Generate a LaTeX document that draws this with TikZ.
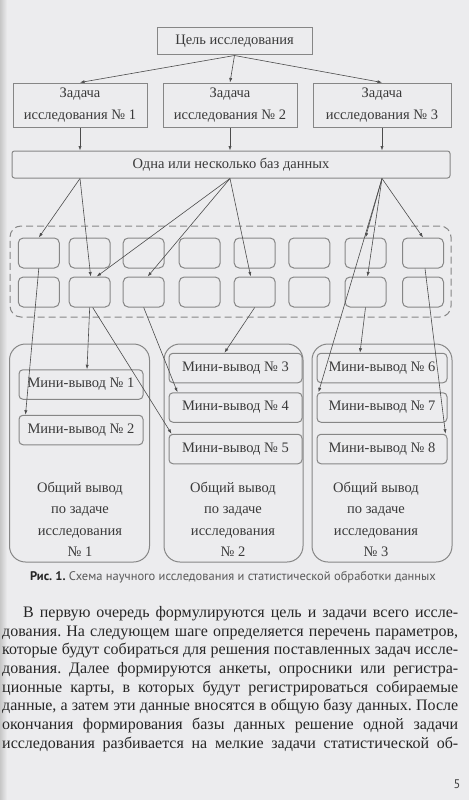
\documentclass[tikz,border=0pt]{standalone}
\usepackage{fontspec}
\setmainfont{Liberation Serif}
\newfontfamily\capfont{PT Sans}
\usepackage{tikz}
\usetikzlibrary{positioning, arrows.meta, calc}
\definecolor{paper}{HTML}{ECECEE}
\definecolor{rimgray}{HTML}{868686}
\definecolor{linegray}{HTML}{4C4C4C}
\definecolor{inkgray}{HTML}{3A3A3A}
\newlength{\textzeile}
\setlength{\textzeile}{456pt}
\frenchspacing

\begin{document}
\begin{tikzpicture}[x=1pt, y=-1pt,
                plainbox/.style={draw=rimgray, line width=1pt, rectangle, text=inkgray, inner sep=0pt, align=center, font=\fontsize{14.5}{21.5}\selectfont},
                taskbox/.style={plainbox, minimum width=134pt, minimum height=44pt},
                dbbox/.style={plainbox, rounded corners=2.5pt, minimum width=438pt, minimum height=27pt},
                cell/.style={draw=rimgray, line width=1pt, rounded corners=5pt, minimum width=41pt, minimum height=30pt, inner sep=0pt},
                cellframe/.style={draw=rimgray, line width=1pt, dash pattern=on 7pt off 4pt, rounded corners=11pt, minimum width=441pt, minimum height=91pt},
                minibox/.style={plainbox, rounded corners=4pt, minimum height=29.5pt},
                sumbox/.style={draw=rimgray, line width=1pt, rounded corners=16pt, minimum width=140pt, minimum height=218pt},
                sumtext/.style={text=inkgray, align=center, font=\fontsize{14.5}{21.5}\selectfont},
                conn/.style={draw=linegray, line width=0.6pt, -{Latex[length=4.5pt, width=3.2pt]}},
                bodytext/.style={text=black!85, align=left, inner sep=0pt, font=\fontsize{16}{18.7}\selectfont},
                captext/.style={text=black!65, inner sep=0pt, font=\capfont\fontsize{12.5}{15}\selectfont}
            ]

            % Blatt
            \fill[paper] (0,0) rectangle (469,800);
            \shade[left color=black!22, right color=paper] (0,0) rectangle (7,800);
            \useasboundingbox (0,0) rectangle (469,800);

            % Knoten oben
            \node[plainbox, minimum width=155pt, minimum height=27pt] (goal) at (234.5,41.5) {Цель исследования};
            \node[taskbox] (t1) at (80,105) {Задача\\исследования № 1};
            \node[taskbox] (t2) at (230,105) {Задача\\исследования № 2};
            \node[taskbox, minimum width=138pt] (t3) at (382,105) {Задача\\исследования № 3};
            \node[dbbox] (db) at (231,164.5) {Одна или несколько баз данных};

            % Zellen der Datenbank
            \node[cellframe] (frame) at (230.5,271.5) {};
            \foreach \i/\cx in {1/38.8, 2/89.7, 3/143.7, 4/199.7, 5/254.7, 6/309.3, 7/365.5, 8/423} {
                \node[cell] (a\i) at (\cx,253) {};
                \node[cell, below=8pt of a\i] (b\i) {};
            }

            % Schlussfolgerungen
            \node[sumbox] (s1) at (79.5,453) {};
            \node[sumbox, minimum width=139pt] (s2) at (233.5,453) {};
            \node[sumbox] (s3) at (382,453) {};
            \node[minibox, minimum width=124pt] (m1) at (81,384.5) {Мини-вывод № 1};
            \node[minibox, minimum width=124pt, below=15pt of m1] (m2) {Мини-вывод № 2};
            \node[minibox, minimum width=133pt] (m3) at (235.5,368) {Мини-вывод № 3};
            \node[minibox, minimum width=133pt, below=9pt of m3] (m4) {Мини-вывод № 4};
            \node[minibox, minimum width=133pt, below=11pt of m4] (m5) {Мини-вывод № 5};
            \node[minibox, minimum width=130pt] (m6) at (382,368) {Мини-вывод № 6};
            \node[minibox, minimum width=130pt, below=9pt of m6] (m7) {Мини-вывод № 7};
            \node[minibox, minimum width=130pt, below=11pt of m7] (m8) {Мини-вывод № 8};
            \node[sumtext] (g1) at (80,519.5) {Общий вывод\\по задаче\\исследования\\№ 1};
            \node[sumtext] (g2) at (233,519.5) {Общий вывод\\по задаче\\исследования\\№ 2};
            \node[sumtext] (g3) at (376,519.5) {Общий вывод\\по задаче\\исследования\\№ 3};

            % Kanten zwischen Knoten
            \draw[conn] (goal.south) -- (t1.north);
            \draw[conn] (goal.south) -- (t2.north);
            \draw[conn] (goal.south) -- (t3.north);
            \draw[conn] (t1.south) -- (t1.south |- db.north);
            \draw[conn] (t2.south) -- (t2.south |- db.north);
            \draw[conn] (t3.south) -- (t3.south |- db.north);
            \draw[conn] (t1.south |- db.south) -- (a1.north);
            \draw[conn] (t1.south |- db.south) -- ([xshift=1pt]b2.north);
            \draw[conn] (t2.south |- db.south) -- ([xshift=7pt]b2.north);
            \draw[conn] (t2.south |- db.south) -- ([xshift=4pt]b3.north);
            \draw[conn] (t2.south |- db.south) -- ([xshift=-4pt]b5.north);
            \draw[conn] (t3.south |- db.south) -- (a7.north);
            \draw[conn] (t3.south |- db.south) -- ([xshift=2pt]b7.north);
            \draw[conn] (t3.south |- db.south) -- (a8.north);
            \draw[conn] (t3.south |- db.south) -- ([xshift=2pt]m7.north west);
            \draw[conn] (a1.south) -- ([xshift=7pt]m2.north west);
            \draw[conn] (b2.south) -- ([xshift=6pt]m1.north);
            \draw[conn] ([xshift=3pt]b2.south) -- ([xshift=3pt]m5.north west);
            \draw[conn] (b3.south) -- ([xshift=9pt]m4.north west);
            \draw[conn] (b5.south) -- ([xshift=-11pt]m3.north);
            \draw[conn] (b7.south) -- ([xshift=-22pt]m6.north);
            \draw[conn] ([xshift=2pt]a8.south) -- ([xshift=-2pt]m8.north east);

            % Unterschrift und Text
            \node[captext] (cap) at (233,577) {{\bfseries\color{black!85}Рис. 1.} Схема научного исследования и статистической обработки данных};
            \node[bodytext, anchor=north west] (para) at (2,606) {%
                \makebox[\textzeile][s]{\hspace*{21pt}В первую очередь формулируются цель и задачи всего иссле-}\\
                \makebox[\textzeile][s]{дования. На следующем шаге определяется перечень параметров,}\\
                \makebox[\textzeile][s]{которые будут собираться для решения поставленных задач иссле-}\\
                \makebox[\textzeile][s]{дования. Далее формируются анкеты, опросники или регистра-}\\
                \makebox[\textzeile][s]{ционные карты, в которых будут регистрироваться собираемые}\\
                \makebox[\textzeile][s]{данные, а затем эти данные вносятся в общую базу данных. После}\\
                \makebox[\textzeile][s]{окончания формирования базы данных решение одной задачи}\\
                \makebox[\textzeile][s]{исследования разбивается на мелкие задачи статистической об-}};
            \node[captext, text=black!75] (page) at (457,784) {5};

        \end{tikzpicture}
\end{document}
